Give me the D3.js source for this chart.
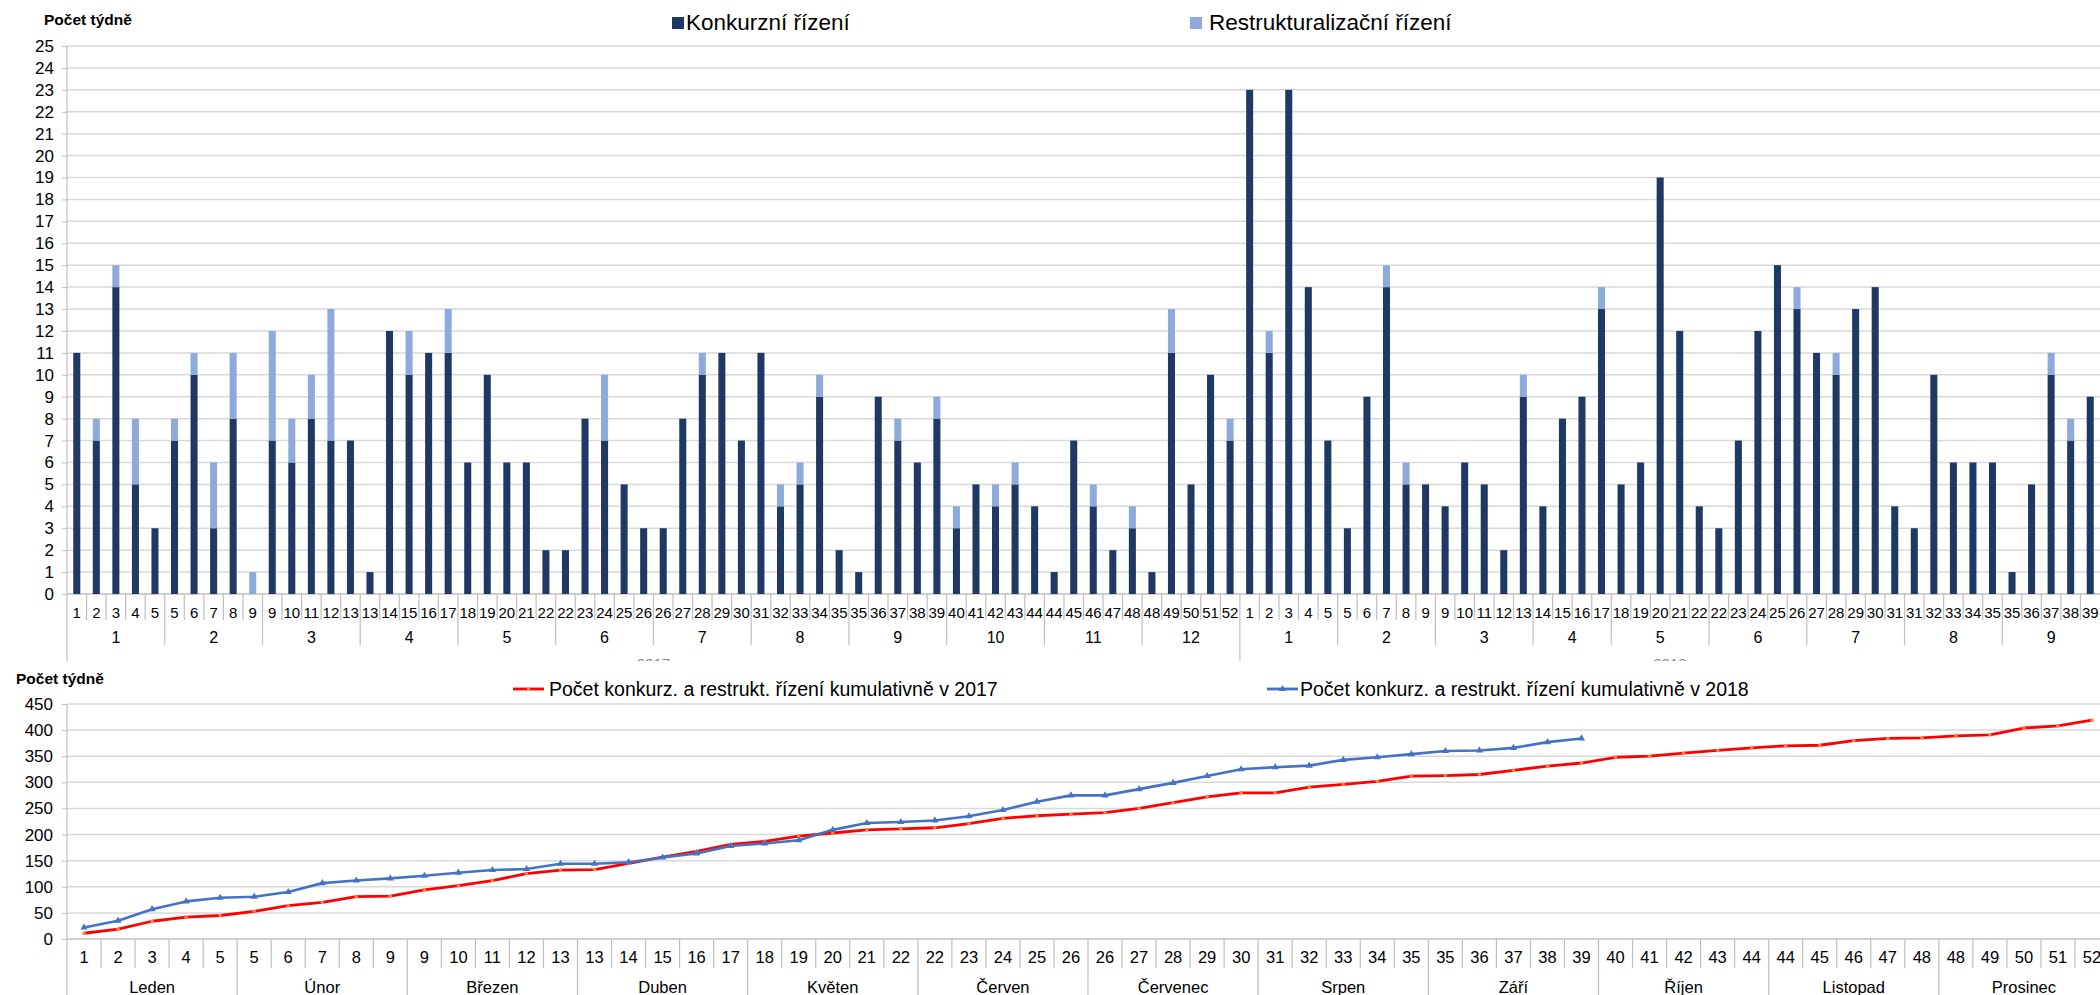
<!DOCTYPE html>
<html>
<head>
<meta charset="utf-8">
<script src="https://cdn.jsdelivr.net/npm/d3@7"></script>
<style>
  body { margin: 0; background: #fff; }
  svg { display: block; font-family: "Liberation Sans", Arial, sans-serif; }
</style>
</head>
<body>
<script>
// week labels, grouped by month
var weekGroups2017 = [[1,2,3,4,5],[5,6,7,8,9],[9,10,11,12,13],[13,14,15,16,17],[18,19,20,21,22],[22,23,24,25,26],
  [26,27,28,29,30],[31,32,33,34,35],[35,36,37,38,39],[40,41,42,43,44],[44,45,46,47,48],[48,49,50,51,52]];
var weekGroups2018 = [[1,2,3,4,5],[5,6,7,8,9],[9,10,11,12,13],[14,15,16,17],[18,19,20,21,22],[22,23,24,25,26],
  [27,28,29,30,31],[31,32,33,34,35],[35,36,37,38,39]];
var years = ["2017", "2018"];
var monthNames = ["Leden","Únor","Březen","Duben","Květen","Červen","Červenec","Srpen","Září","Říjen","Listopad","Prosinec"];

// weekly counts (2017 then 2018)
var konkurz = [11,7,14,5,3, 7,10,3,8,0, 7,6,8,7,7, 1,12,10,11,11, 6,10,6,6,2, 2,8,7,5,3,
  3,8,10,11,7, 11,4,5,9,2, 1,9,7,6,8, 3,5,4,5,4, 1,7,4,2,3, 1,11,5,10,7,
  23,11,23,14,7, 3,9,14,5,5, 4,6,5,2,9, 4,8,9,13, 5,6,19,12,4, 3,7,12,15,13,
  11,10,13,14,4, 3,10,6,6,6, 1,5,10,7,9];
var restrukt = [0,1,1,3,0, 1,1,3,3,1, 5,2,2,6,0, 0,0,2,0,2, 0,0,0,0,0, 0,0,3,0,0,
  0,0,1,0,0, 0,1,1,1,0, 0,0,1,0,1, 1,0,1,1,0, 0,0,1,0,1, 0,2,0,0,1,
  0,1,0,0,0, 0,0,1,1,0, 0,0,0,0,1, 0,0,0,1, 0,0,0,0,0, 0,0,0,0,1,
  0,1,0,0,0, 0,0,0,0,0, 0,0,1,1,0];

// cumulative counts
var cumul2017 = [11,19,34,42,45, 53,64,70,81,82, 94,102,112,125,132, 133,145,157,168,181,
  187,197,203,209,211, 213,221,231,236,239, 242,250,261,272,280, 280,291,296,302,312,
  313,315,323,331,337, 348,350,356,361,366, 370,371,380,384,385, 389,391,404,408,419];
var cumul2018 = [22,35,57,72,79, 81,90,107,112,116, 121,127,132,134,144, 144,147,156,164,178,
  183,189,209,222,224, 227,235,247,263,275, 275,287,299,312,325, 329,332,343,348,354,
  360,361,366,377,384];

var barLegend = ["Konkurzní řízení", "Restrukturalizační řízení"];
var lineLegend = ["Počet konkurz. a restrukt. řízení kumulativně v 2017", "Počet konkurz. a restrukt. řízení kumulativně v 2018"];
var yTitle = "Počet týdně";

var colDark = "#1f3864", colLight = "#8eaadb";
var gridCol = "#d9d9d9", axisCol = "#bfbfbf", textCol = "#000";

var svg = d3.select("body").append("svg").attr("width", 2100).attr("height", 995);

// ---------- bar chart ----------
var cats = [];
[weekGroups2017, weekGroups2018].forEach(function(groups, yi) {
  groups.forEach(function(g, mi) {
    g.forEach(function(w, wi) {
      cats.push({year: yi, month: mi, week: w, first: wi === 0});
    });
  });
});
cats.forEach(function(c, i) { c.k = konkurz[i]; c.r = restrukt[i]; });

svg.append("clipPath").attr("id", "topclip")
  .append("rect").attr("x", 0).attr("y", 0).attr("width", 2100).attr("height", 661);

var gTop = svg.append("g").attr("clip-path", "url(#topclip)");

var xBar = d3.scaleBand().domain(d3.range(cats.length)).range([67, 2100])
  .paddingInner(0.64).paddingOuter(0.32);
var stepBar = xBar.step();
var yBar = d3.scaleLinear().domain([0, 25]).range([594, 46]);

gTop.append("g").selectAll("line").data(yBar.ticks(25)).join("line")
  .attr("x1", 67).attr("x2", 2100)
  .attr("y1", function(d) { return yBar(d); }).attr("y2", function(d) { return yBar(d); })
  .attr("stroke", function(d) { return d === 0 ? axisCol : gridCol; })
  .attr("stroke-width", 1.5);

var yAxisTop = gTop.append("g").attr("transform", "translate(67,0)")
  .call(d3.axisLeft(yBar).ticks(25).tickSize(5).tickSizeOuter(0).tickPadding(8));
yAxisTop.select(".domain").remove();
yAxisTop.selectAll("line").attr("stroke", axisCol);
yAxisTop.selectAll("text").attr("font-size", 17).attr("fill", textCol).attr("font-family", null);

gTop.append("line").attr("x1", 67).attr("x2", 67).attr("y1", 46).attr("y2", 661)
  .attr("stroke", axisCol).attr("stroke-width", 1.2);

var stacked = d3.stack().keys(["k", "r"])(cats);
var barCols = [colDark, colLight];
gTop.append("g").selectAll("g").data(stacked).join("g")
  .attr("fill", function(d, i) { return barCols[i]; })
  .selectAll("rect").data(function(d) { return d; }).join("rect")
  .attr("x", function(d, i) { return xBar(i); })
  .attr("width", xBar.bandwidth())
  .attr("y", function(d) { return yBar(d[1]); })
  .attr("height", function(d) { return yBar(d[0]) - yBar(d[1]); });

// category separators
var sepTop = gTop.append("g").attr("stroke", axisCol).attr("stroke-width", 1.2);
cats.forEach(function(c, i) {
  if (i === 0) return;
  var x = 67 + i * stepBar;
  var y2 = 620;
  if (c.first) y2 = (c.month === 0) ? 661 : 645;
  sepTop.append("line").attr("x1", x).attr("x2", x).attr("y1", 594).attr("y2", y2);
});

gTop.append("g").selectAll("text").data(cats).join("text")
  .attr("x", function(d, i) { return xBar(i) + xBar.bandwidth() / 2; })
  .attr("y", 618).attr("text-anchor", "middle").attr("font-size", 15).attr("fill", textCol)
  .text(function(d) { return d.week; });

// month & year labels
var monthSpans = d3.groups(cats.map(function(c, i) { return {c: c, i: i}; }),
  function(d) { return d.c.year + "-" + d.c.month; });
gTop.append("g").selectAll("text").data(monthSpans).join("text")
  .attr("x", function(d) {
    var a = d[1][0].i, b = d[1][d[1].length - 1].i;
    return 67 + (a + b + 1) / 2 * stepBar;
  })
  .attr("y", 643).attr("text-anchor", "middle").attr("font-size", 16).attr("fill", textCol)
  .text(function(d) { return d[1][0].c.month + 1; });

var yearSpans = d3.groups(cats.map(function(c, i) { return {c: c, i: i}; }), function(d) { return d.c.year; });
gTop.append("g").selectAll("text").data(yearSpans).join("text")
  .attr("x", function(d) {
    var a = d[1][0].i, b = d[1][d[1].length - 1].i;
    return 67 + (a + b + 1) / 2 * stepBar;
  })
  .attr("y", 669).attr("text-anchor", "middle").attr("font-size", 15).attr("fill", "#888")
  .text(function(d) { return years[d[0]]; });

svg.append("text").attr("x", 44).attr("y", 25).attr("font-size", 15.5).attr("font-weight", "bold")
  .attr("fill", textCol).text(yTitle);

// legend
var legTop = [{x: 672, tx: 686}, {x: 1190, tx: 1209}];
legTop.forEach(function(l, i) {
  svg.append("rect").attr("x", l.x).attr("y", 17).attr("width", 12).attr("height", 12).attr("fill", barCols[i]);
  svg.append("text").attr("x", l.tx).attr("y", 30).attr("font-size", 22.5).attr("fill", textCol).text(barLegend[i]);
});

// ---------- cumulative line chart ----------
var bottomLabels = [];
weekGroups2017.forEach(function(g, mi) {
  g.forEach(function(w, wi) { bottomLabels.push({week: w, month: mi, first: wi === 0}); });
});

var xLine = d3.scaleBand().domain(d3.range(bottomLabels.length)).range([67, 2109]);
var stepLine = xLine.step();
var yLine = d3.scaleLinear().domain([0, 450]).range([939, 704]);
var gBot = svg.append("g");

gBot.append("g").selectAll("line").data(yLine.ticks(9)).join("line")
  .attr("x1", 67).attr("x2", 2100)
  .attr("y1", function(d) { return yLine(d); }).attr("y2", function(d) { return yLine(d); })
  .attr("stroke", function(d) { return d === 0 ? axisCol : gridCol; })
  .attr("stroke-width", 1.5);

var yAxisBot = gBot.append("g").attr("transform", "translate(67,0)")
  .call(d3.axisLeft(yLine).ticks(9).tickSize(5).tickSizeOuter(0).tickPadding(9));
yAxisBot.select(".domain").remove();
yAxisBot.selectAll("line").attr("stroke", axisCol);
yAxisBot.selectAll("text").attr("font-size", 17).attr("fill", textCol).attr("font-family", null);

gBot.append("line").attr("x1", 67).attr("x2", 67).attr("y1", 704).attr("y2", 995)
  .attr("stroke", axisCol).attr("stroke-width", 1.2);

var sepBot = gBot.append("g").attr("stroke", axisCol).attr("stroke-width", 1.2);
bottomLabels.forEach(function(c, i) {
  if (i === 0) return;
  var x = 67 + i * stepLine;
  sepBot.append("line").attr("x1", x).attr("x2", x).attr("y1", 939).attr("y2", c.first ? 995 : 968);
});

gBot.append("g").selectAll("text").data(bottomLabels).join("text")
  .attr("x", function(d, i) { return xLine(i) + stepLine / 2; })
  .attr("y", 963).attr("text-anchor", "middle").attr("font-size", 16.5).attr("fill", textCol)
  .text(function(d) { return d.week; });

gBot.append("g").selectAll("text").data(monthNames).join("text")
  .attr("x", function(d, i) { return 67 + (i * 5 + 2.5) * stepLine; })
  .attr("y", 993).attr("text-anchor", "middle").attr("font-size", 16.5).attr("fill", textCol)
  .text(function(d) { return d; });

var line = d3.line()
  .x(function(d, i) { return xLine(i) + stepLine / 2; })
  .y(function(d) { return yLine(d); });

gBot.append("path").datum(cumul2017).attr("d", line)
  .attr("fill", "none").attr("stroke", "#ff0000").attr("stroke-width", 2.8).attr("stroke-linejoin", "round");
gBot.append("g").selectAll("circle").data(cumul2017).join("circle")
  .attr("cx", function(d, i) { return xLine(i) + stepLine / 2; })
  .attr("cy", function(d) { return yLine(d); })
  .attr("r", 1.8).attr("fill", "#ff8040");

gBot.append("path").datum(cumul2018).attr("d", line)
  .attr("fill", "none").attr("stroke", "#4472c4").attr("stroke-width", 2.6).attr("stroke-linejoin", "round");
var tri = d3.symbol().type(d3.symbolTriangle).size(22);
gBot.append("g").selectAll("path").data(cumul2018).join("path")
  .attr("transform", function(d, i) { return "translate(" + (xLine(i) + stepLine / 2) + "," + yLine(d) + ")"; })
  .attr("d", tri).attr("fill", "#4472c4");

svg.append("text").attr("x", 16).attr("y", 684).attr("font-size", 15.5).attr("font-weight", "bold")
  .attr("fill", textCol).text(yTitle);

// legend
var legBot = [{x1: 513, x2: 544, tx: 549, col: "#ff0000"}, {x1: 1267, x2: 1298, tx: 1300, col: "#4472c4"}];
legBot.forEach(function(l, i) {
  svg.append("line").attr("x1", l.x1).attr("x2", l.x2).attr("y1", 689).attr("y2", 689)
    .attr("stroke", l.col).attr("stroke-width", 2.8);
  if (i === 0) {
    svg.append("circle").attr("cx", (l.x1 + l.x2) / 2).attr("cy", 689).attr("r", 1.8).attr("fill", "#ff8040");
  } else {
    svg.append("path").attr("transform", "translate(" + (l.x1 + l.x2) / 2 + ",689)").attr("d", tri).attr("fill", l.col);
  }
  svg.append("text").attr("x", l.tx).attr("y", 696).attr("font-size", 19.5).attr("fill", textCol).text(lineLegend[i]);
});
</script>
</body>
</html>
